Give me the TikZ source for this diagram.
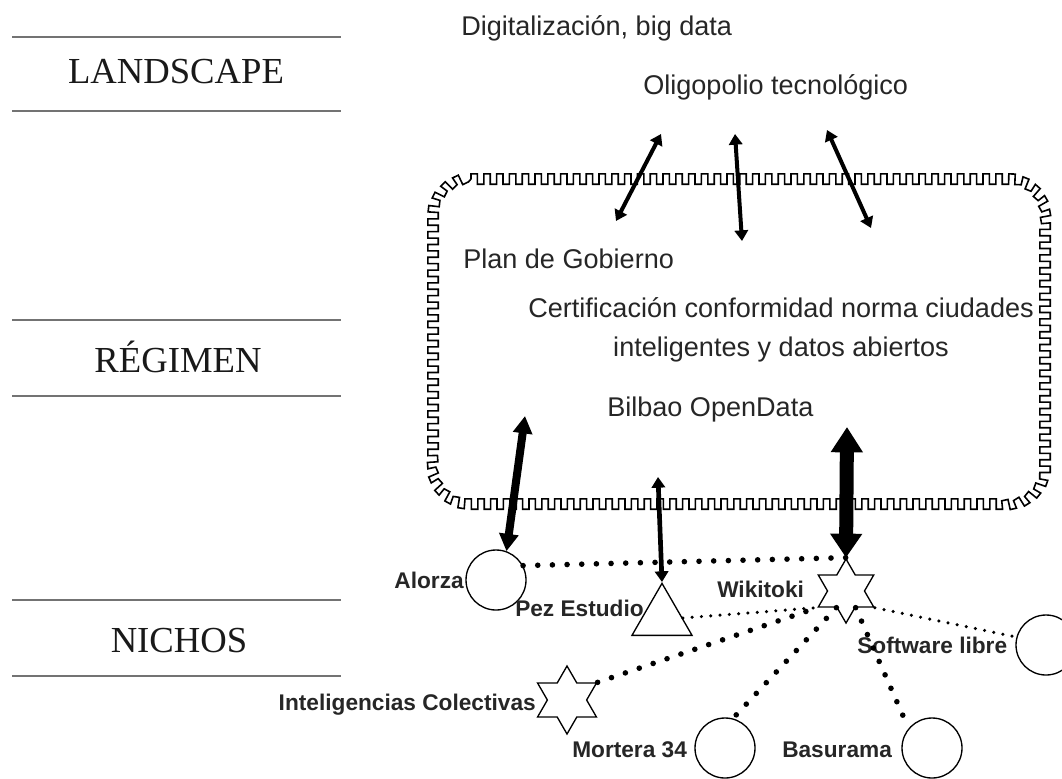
\documentclass[tikz,border=0pt]{standalone}
\usepackage{fontspec}
\setmainfont{Liberation Serif}
\setsansfont{Liberation Sans}
\usetikzlibrary{arrows.meta,shapes.geometric,decorations}
\pgfdeclaredecoration{sqwave}{up}{
  \state{up}[width=\pgfdecorationsegmentlength]{
    \pgfpathlineto{\pgfpoint{0pt}{\pgfdecorationsegmentamplitude}}
    \pgfpathlineto{\pgfpoint{0.5\pgfdecorationsegmentlength}{\pgfdecorationsegmentamplitude}}
    \pgfpathlineto{\pgfpoint{0.5\pgfdecorationsegmentlength}{-\pgfdecorationsegmentamplitude}}
    \pgfpathlineto{\pgfpoint{\pgfdecorationsegmentlength}{-\pgfdecorationsegmentamplitude}}
  }
  \state{final}{\pgfpathlineto{\pgfpointdecoratedpathlast}}
}
\tikzset{
  head/.style={font=\fontsize{27.5}{33}\selectfont, inner sep=0, text=black!90},
  rule/.style={draw=black!55, line width=1.5pt},
  lbl/.style={font=\sffamily\fontsize{20.3}{29}\selectfont, inner sep=0, text=black!85},
  nm/.style={font=\sffamily\bfseries\fontsize{17}{20}\selectfont, inner sep=0, text=black!85},
  org/.style={circle, draw, line width=1pt, minimum size=45pt, inner sep=0},
  hex/.style={star, star points=6, star point ratio=1.732, draw, line width=1pt, minimum size=#1, inner sep=0},
  tri/.style={regular polygon, regular polygon sides=3, draw, line width=1pt, minimum size=52pt, inner sep=0},
  bigdots/.style={line width=4.2pt, dash pattern=on 0pt off 11pt, line cap=round},
  smalldots/.style={line width=2.6pt, dash pattern=on 0pt off 7pt, line cap=round},
  thinarrow/.style={line width=3pt, {Triangle[width=10pt,length=8pt]}-{Triangle[width=10pt,length=8pt]}},
  regbox/.style={draw, line width=1.2pt, decorate, decoration={sqwave, segment length=9.6pt, amplitude=3.9pt}}
}
\begin{document}
\begin{tikzpicture}[x=0.75pt,y=-0.75pt]
\useasboundingbox (0,0) rectangle (1062,778);
% left headings
\draw[rule] (12,37) -- (341,37);
\draw[rule] (12,111) -- (341,111);
\node[head, anchor=base] (land) at (176,83) {LANDSCAPE};
\draw[rule] (12,320) -- (341,320);
\draw[rule] (12,396) -- (341,396);
\node[head, anchor=base] (reg) at (178,372) {RÉGIMEN};
\draw[rule] (12,600) -- (341,600);
\node[head, anchor=base] (nic) at (179,652) {NICHOS};
\draw[rule] (12,676) -- (341,676);
% landscape texts
\node[lbl, anchor=base west] (dig) at (461,35) {Digitalización, big data};
\node[lbl, anchor=base west] (oli) at (643,94) {Oligopolio tecnológico};
% regime box
\begin{scope}[y=0.75pt]
\draw[regbox] (471,-179) -- (1007,-179) arc[start angle=90,end angle=0,radius=38]
  -- (1045,-466) arc[start angle=0,end angle=-90,radius=38]
  -- (471,-504) arc[start angle=270,end angle=180,radius=38]
  -- (433,-217) arc[start angle=180,end angle=90,radius=38] -- cycle;
\end{scope}
\node[lbl, anchor=base west] (plan) at (463,268) {Plan de Gobierno};
\node[lbl, align=center] (cert) at (781,330) {Certificación conformidad norma ciudades\\inteligentes y datos abiertos};
\node[lbl, anchor=base west] (bilbao) at (607,416) {Bilbao OpenData};
% top arrows
\coordinate (a1s) at (616,221);
\coordinate (a1e) at (661,134);
\coordinate (a2s) at (735,134);
\coordinate (a2e) at (742,241);
\coordinate (a3s) at (827,130);
\coordinate (a3e) at (871,228);
\draw[thinarrow] (a1s) -- (a1e);
\draw[thinarrow] (a2s) -- (a2e);
\draw[thinarrow] (a3s) -- (a3e);
% niches
\node[org] (alorza) at (496,580) {};
\node[nm, anchor=base east] (alorzal) at (464,588) {Alorza};
\node[tri] (pez) at (662,618) {};
\node[nm, anchor=base west] (pezl) at (515,616) {Pez Estudio};
\node[hex=48pt] (wik) at (846,591) {};
\node[nm, anchor=base west] (wikl) at (717,597) {Wikitoki};
\node[org] (soft) at (1046,645) {};
\node[nm, anchor=base west] (softl) at (857,653) {Software libre};
\node[hex=51pt] (intel) at (567,700) {};
\node[nm, anchor=base east] (intell) at (536,710) {Inteligencias Colectivas};
\node[org] (mort) at (725,748) {};
\node[nm, anchor=base west] (mortl) at (572,757) {Mortera 34};
\node[org] (basu) at (932,748) {};
\node[nm, anchor=base west] (basul) at (782,757) {Basurama};
% vertical arrows
\coordinate (al) at (525,416);
\coordinate (pa) at (658,477);
\coordinate (wa) at (847,427);
\draw[line width=6pt, {Triangle[width=14pt,length=13pt]}-{Triangle[width=14pt,length=13pt]}] (al) -- (alorza.70);
\draw[line width=3.5pt, {Triangle[width=10pt,length=8pt]}-{Triangle[width=10pt,length=8pt]}] (pa) -- (pez.north);
\draw[line width=10.5pt, {Triangle[width=23pt,length=19pt]}-{Triangle[width=23pt,length=18pt]}] (wa) -- (wik.north);
% dotted links
\draw[bigdots] (alorza.28) -- (wik.north);
\draw[smalldots] (pez.east) -- (wik.210);
\draw[bigdots] (intel.30) -- (wik.210);
\draw[bigdots] (wik.240) -- (mort.75);
\draw[bigdots] (wik.300) -- (basu.140);
\draw[smalldots] (wik.330) -- (soft.165);
\end{tikzpicture}
\end{document}
